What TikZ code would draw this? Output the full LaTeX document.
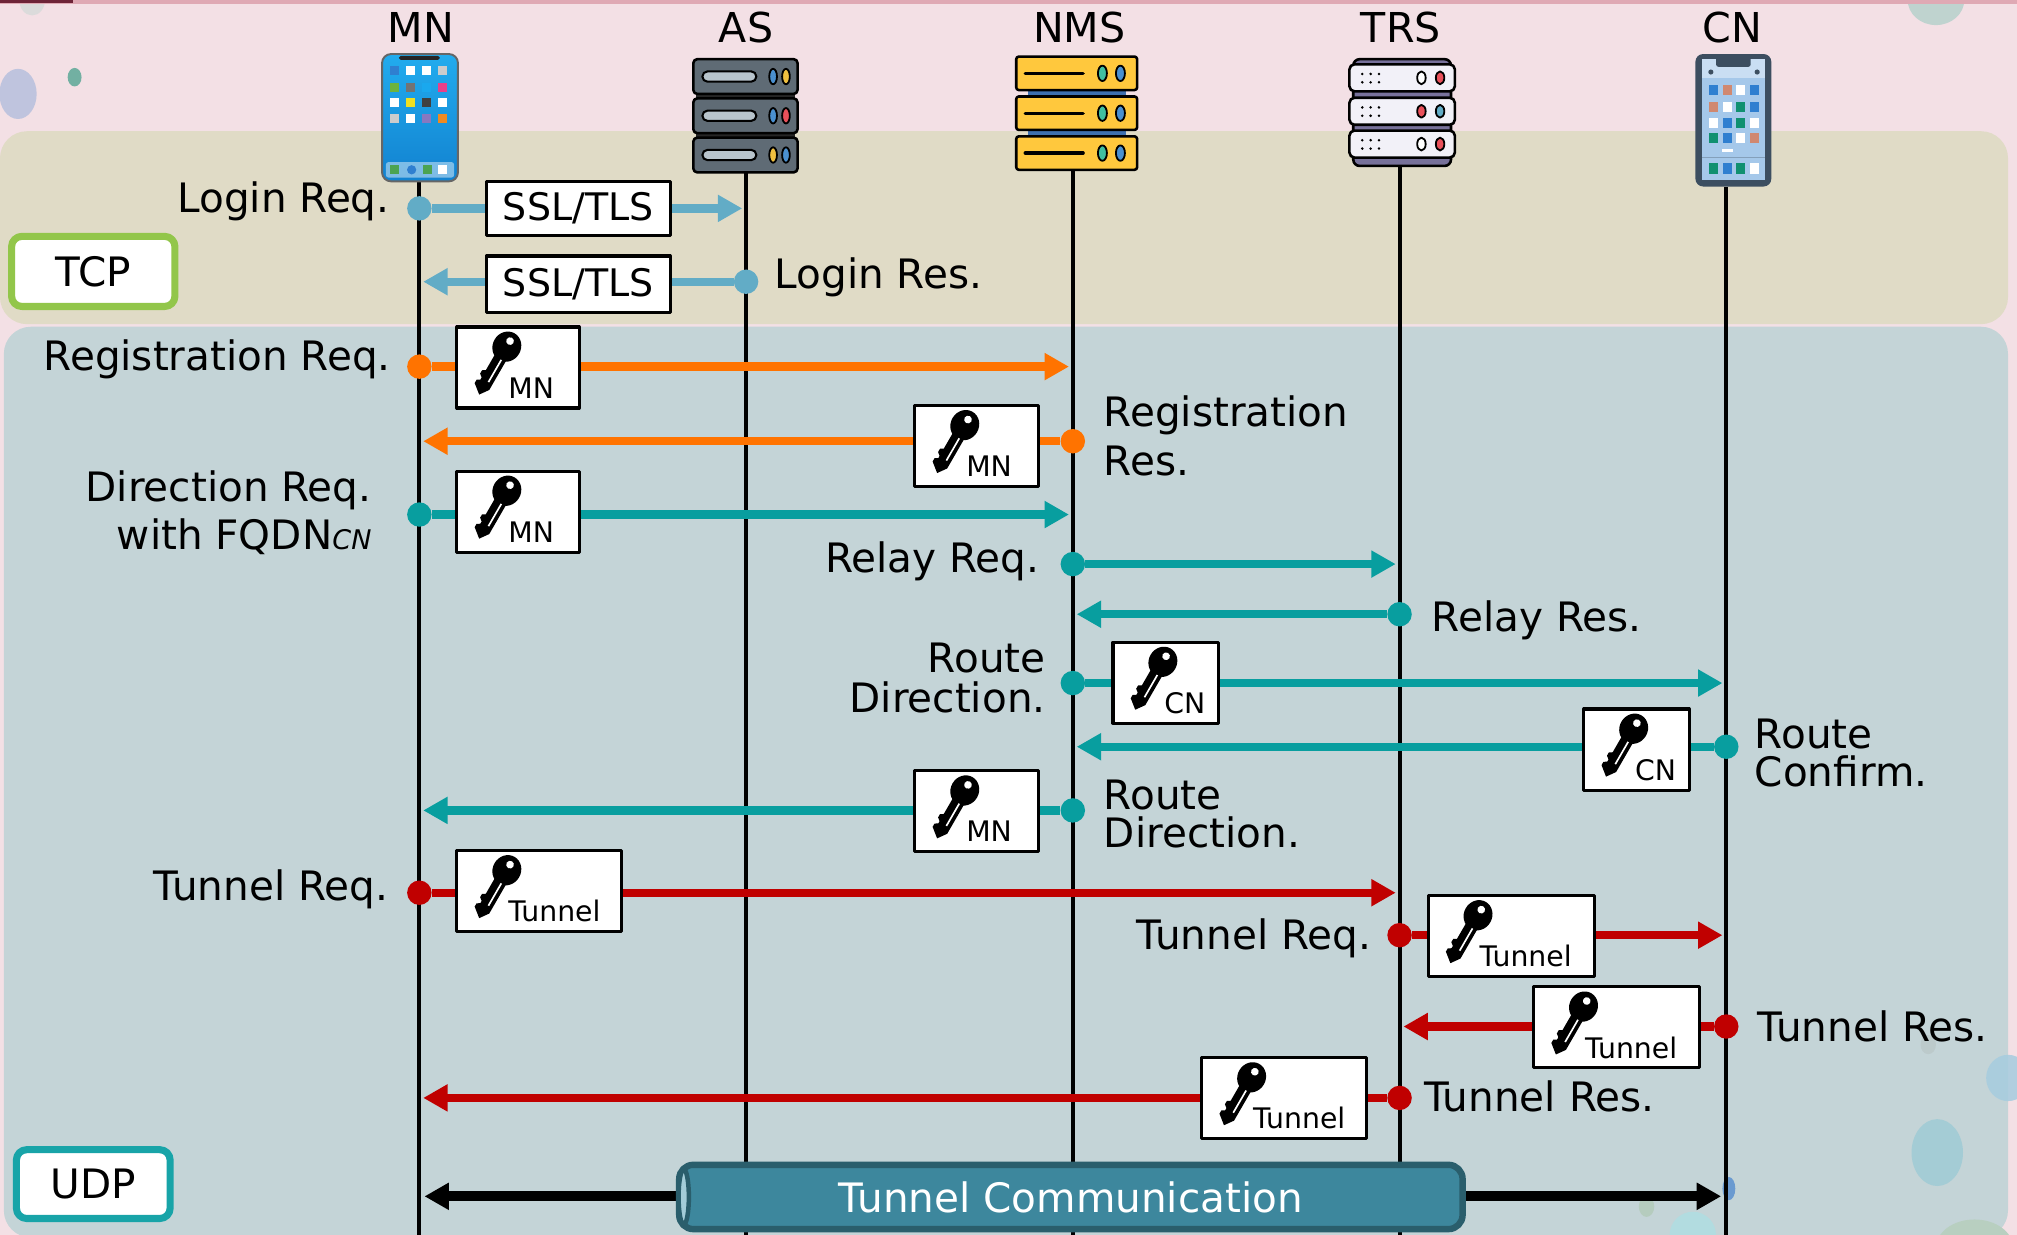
\documentclass[tikz,border=0pt]{standalone}
\usepackage{fontspec}
\setmainfont{DejaVu Sans}
\usetikzlibrary{arrows.meta}

\definecolor{pinkbg}{HTML}{F3E0E5}
\definecolor{topstrip}{HTML}{DFA9B4}
\definecolor{maroonbar}{HTML}{6E2438}
\definecolor{tcpband}{HTML}{E0DBC6}
\definecolor{udpband}{HTML}{C4D4D7}
\definecolor{sslblue}{HTML}{62ACC6}
\definecolor{regorange}{HTML}{FF7300}
\definecolor{dirteal}{HTML}{089E9F}
\definecolor{tunred}{HTML}{C00000}
\definecolor{tcpgreen}{HTML}{92C64A}
\definecolor{udpteal}{HTML}{18A4A8}
\definecolor{pipefill}{HTML}{3D879D}
\definecolor{pipedark}{HTML}{2A5E6C}
\definecolor{pipeface}{HTML}{A3CCD8}
\definecolor{asgray}{HTML}{5F6B75}
\definecolor{asslot}{HTML}{B8C4CC}
\definecolor{ledblue}{HTML}{4A90D0}
\definecolor{ledyellow}{HTML}{F0C040}
\definecolor{ledred}{HTML}{E8505A}
\definecolor{ledteal}{HTML}{40C0A0}
\definecolor{nmsyellow}{HTML}{FFC83D}
\definecolor{nmsblue}{HTML}{3E70B0}
\definecolor{trsback}{HTML}{77719A}
\definecolor{trswhite}{HTML}{F2F1F8}
\definecolor{cnframe}{HTML}{3C4E60}
\definecolor{cnscreen}{HTML}{A5C8EA}
\definecolor{mnscrtop}{HTML}{22ACEE}
\definecolor{mnscrbot}{HTML}{1282D0}
\definecolor{appblue}{HTML}{2F7FD0}
\definecolor{appsky}{HTML}{1AA8EE}
\definecolor{appgreen}{HTML}{6CB33E}
\definecolor{appdeep}{HTML}{109070}
\definecolor{apppink}{HTML}{E8408A}
\definecolor{appyellow}{HTML}{F0E020}
\definecolor{apppurple}{HTML}{8878C0}
\definecolor{apporange}{HTML}{F08A20}
\definecolor{appsalmon}{HTML}{D08870}
\definecolor{bublav}{HTML}{BFC4DE}
\definecolor{bubgreen}{HTML}{72B0A2}
\definecolor{bubsage}{HTML}{BFD3CF}
\definecolor{bubblue}{HTML}{A4CCD5}
\definecolor{bubsky}{HTML}{A6CCDF}
\definecolor{bubgray}{HTML}{BCCACB}
\definecolor{bubmoss}{HTML}{B8CFC0}
\definecolor{bubmint}{HTML}{B5CCBE}
\definecolor{bubcyan}{HTML}{B2DCE0}
\definecolor{bubdeep}{HTML}{6A9AD0}

% key symbol, head at the origin, shaft pointing down-left
\tikzset{
  keyicon/.pic={
    \begin{scope}[rotate=-30]
      \fill (0,0) ellipse (11 and 12);
      \fill[white] (0,-5) circle (3);
      \fill (-5,6) -- (5,6) -- (5,36) -- (0,43) -- (-5,39)
        -- (-7.5,37) -- (-7.5,34) -- (-5,32.5) -- (-5,30.5)
        -- (-7.5,28.5) -- (-7.5,25.5) -- (-5,24) -- cycle;
      \draw[white, line width=1.3] (1.4,11) -- (1.4,31);
    \end{scope}
  }
}

% name, left, top, width, tag
\newcommand{\keybox}[5]{%
  \node[keybox, minimum width=#4] (#1) at (#2,#3) {};
  \pic at ([shift={(40,16.5)}]#1.north west) {keyicon};
  \node[keytag] at ([shift={(41,56.5)}]#1.north west) {#5};
}

\begin{document}
\begin{tikzpicture}[x=1pt, y=-1pt, line join=round,
  >={Triangle[length=19pt,width=20pt]},
  font=\fontsize{31.5}{38}\selectfont,
  lanehead/.style={anchor=base, inner sep=0, font=\fontsize{32}{32}\selectfont},
  lifeline/.style={line width=3},
  msg/.style={line width=6.5, ->, shorten >=3pt},
  msgdot/.style={circle, fill=#1, minimum size=19, inner sep=0},
  lbl/.style={inner sep=0},
  sslbox/.style={draw, fill=white, line width=2.4, minimum width=143, inner sep=0, font=\fontsize{29.5}{29.5}\selectfont},
  keybox/.style={draw, fill=white, line width=2.4, minimum height=63, inner sep=0, anchor=north west},
  keytag/.style={anchor=base west, inner sep=0, font=\fontsize{22}{22}\selectfont},
  protobox/.style={draw=#1, fill=white, line width=5.5, rounded corners=8, inner sep=0},
  tunnelpipe/.style={draw=pipedark, fill=pipefill, line width=5, rounded corners=11,
    minimum width=609, minimum height=50, inner sep=0, text=white}]
\def\xMN{326} \def\xAS{580} \def\xNMS{834} \def\xTRS{1088} \def\xCN{1342}
\useasboundingbox (0,0) rectangle (1568,960);

% background and bands
\fill[pinkbg] (0,0) rectangle (1568,960);
\fill[black!14] (25,0) ellipse (10 and 12);
\fill[bublav] (14,73) ellipse (14.5 and 19.5);
\fill[bubgreen] (58,60) ellipse (5.4 and 7.2);
\fill[bubsage] (1505,0) ellipse (22 and 19.5);
\fill[topstrip] (0,0) rectangle (1568,3);
\fill[maroonbar] (0,0) rectangle (57,2.3);
\fill[tcpband, rounded corners=21] (0,102) rectangle (1561,252);
\fill[udpband, rounded corners=21] (3,254) rectangle (1561,962);
\fill[bubblue] (1506,896) ellipse (20 and 26);
\fill[bubsky, opacity=.85] (1561,838) ellipse (17 and 18);
\fill[bubgray] (1499,812) ellipse (6 and 7.5);
\fill[bubmoss] (1535,970) ellipse (30 and 22);
\fill[bubmint] (1280,938) ellipse (6 and 8);
\fill[bubcyan] (1316,960) circle (18);
\fill[bubdeep] (1344,924) ellipse (5 and 9);

\node[protobox=tcpgreen, minimum width=127, minimum height=54.5] (tcp) at (72.5,211) {TCP};
\node[protobox=udpteal, minimum width=119.5, minimum height=53.5] (udp) at (72.5,920.5) {UDP};

% lane heads
\node[lanehead] (MN) at (327,33) {MN};
\node[lanehead] (AS) at (580,33) {AS};
\node[lanehead] (NMS) at (839,33) {NMS};
\node[lanehead] (TRS) at (1089,33) {TRS};
\node[lanehead] (CN) at (1347,33) {CN};

\draw[lifeline] (\xMN,140) -- (\xMN,962);
\draw[lifeline] (\xAS,132) -- (\xAS,962);
\draw[lifeline] (\xNMS,132) -- (\xNMS,962);
\draw[lifeline] (\xTRS,128) -- (\xTRS,962);
\draw[lifeline] (\xCN,145) -- (\xCN,962);

% MN handset
\draw[top color=mnscrtop, bottom color=mnscrbot, draw=black!60, line width=1.5, rounded corners=7]
  (297,42) rectangle (356,141);
\fill[black!85, rounded corners=1.5] (310,43.5) rectangle (342,46.5);
\foreach \y/\cols in {55/{appblue,white,white,black!20}, 68/{appgreen,black!55,appsky,apppink},
    80/{white,appyellow,black!75,white}, 92.5/{black!20,white,apppurple,apporange}}
  \foreach \c [count=\k from 0] in \cols
    \fill[\c] ({303.5+12.4*\k},\y-3.5) rectangle ++(7,7);
\fill[white, opacity=.45, rounded corners=2] (300,126) rectangle (353,138);
\fill[appgreen!70!teal] (303.5,128.5) rectangle ++(7,7);
\fill[appblue] (320,132) circle (3.6);
\fill[appgreen!70!teal] (328.5,128.5) rectangle ++(7,7);
\fill[white] (340.5,128.5) rectangle ++(7,7);

% AS rack
\fill[black!85] (541,47) rectangle (618,133);
\foreach \y/\la/\lb in {46/ledblue/ledyellow, 76.5/ledblue/ledred, 107/ledyellow/ledblue} {
  \draw[fill=asgray, line width=2, rounded corners=3] (539,\y) rectangle ++(81,27);
  \draw[fill=asslot, line width=1.6, rounded corners=4] (546,\y+9.5) rectangle ++(42,8);
  \draw[fill=\la, line width=1.4] (601,\y+13.5) ellipse (3 and 6);
  \draw[fill=\lb, line width=1.4] (611,\y+13.5) ellipse (3 and 6);
}

% NMS rack
\fill[nmsblue] (799,60) rectangle (875,120);
\foreach \y in {44,75,106} {
  \draw[fill=nmsyellow, line width=2, rounded corners=2] (790,\y) rectangle ++(94,26);
  \draw[line width=2.6, line cap=round] (797,\y+13) -- (842,\y+13);
  \draw[fill=ledteal, line width=1.4] (857,\y+13) ellipse (3.5 and 6);
  \draw[fill=ledblue, line width=1.4] (871,\y+13) ellipse (3.5 and 6);
}

% TRS rack
\draw[fill=trsback, line width=2, rounded corners=5] (1052,46) rectangle (1128,129);
\foreach \y/\la/\lb in {50/white/ledred, 76/ledred/sslblue, 101.5/white/ledred} {
  \draw[fill=trswhite, line width=2, rounded corners=4] (1049,\y) rectangle ++(82,21);
  \foreach \dx in {0,6.5,13} \foreach \dy in {7.5,14} \fill (1059+\dx,\y+\dy) circle (1.1);
  \draw[fill=\la, line width=1.4] (1105,\y+10.5) ellipse (3.3 and 5);
  \draw[fill=\lb, line width=1.4] (1119.5,\y+10.5) ellipse (3.3 and 5);
}

% CN handset
\fill[cnframe, rounded corners=6] (1318,42) rectangle (1377,145);
\fill[cnscreen] (1323,46) rectangle (1372,140);
\fill[cnscreen!60!white] (1323,46) rectangle (1372,61);
\fill[cnframe, rounded corners=2] (1334,42) rectangle (1361,52);
\fill[cnframe] (1330,56) circle (2) (1366,56) circle (2);
\foreach \y/\cols in {70/{appblue,appsalmon,white,appblue}, 83/{appsalmon,white,appdeep,appblue},
    95.5/{white,appblue,appdeep,white}, 107.5/{appdeep,appblue,white,appsalmon}}
  \foreach \c [count=\k from 0] in \cols
    \fill[\c] ({1328.5+10.6*\k},\y-4) rectangle ++(7,8);
\fill[white] (1339,115.5) rectangle ++(8,3);
\fill[cnscreen!80!black] (1323,122) rectangle (1372,123);
\foreach \c [count=\k from 0] in {appdeep,appblue,appdeep,white}
  \fill[\c] ({1328.5+10.6*\k},127) rectangle ++(7,8);

% login over SSL/TLS
\node[msgdot=sslblue] (d1) at (\xMN,162) {};
\coordinate (e1) at (\xAS,162);
\draw[msg, sslblue] (d1) -- (e1);
\node[sslbox, minimum height=42] (ssl1) at (449.5,162) {SSL/TLS};
\node[lbl, anchor=base east] (t1) at (303,165) {Login Req.};

\node[msgdot=sslblue] (d2) at (\xAS,219) {};
\coordinate (e2) at (\xMN,219);
\draw[msg, sslblue] (d2) -- (e2);
\node[sslbox, minimum height=44] (ssl2) at (449.5,221) {SSL/TLS};
\node[lbl, anchor=base west] (t2) at (602,224) {Login Res.};

% registration
\node[msgdot=regorange] (d3) at (\xMN,285) {};
\coordinate (e3) at (\xNMS,285);
\draw[msg, regorange] (d3) -- (e3);
\keybox{k3}{354}{253}{95}{MN}
\node[lbl, anchor=base east] (t3) at (304,288) {Registration Req.};

\node[msgdot=regorange] (d4) at (\xNMS,343) {};
\coordinate (e4) at (\xMN,343);
\draw[msg, regorange] (d4) -- (e4);
\keybox{k4}{710}{314}{96}{MN}
\node[lbl, anchor=base west, align=left] (t4) at (858,369.5) {Registration\\Res.};

% direction and relay
\node[msgdot=dirteal] (d5) at (\xMN,400) {};
\coordinate (e5) at (\xNMS,400);
\draw[msg, dirteal] (d5) -- (e5);
\keybox{k5}{354}{365}{95}{MN}
\node[lbl, anchor=base east, align=right] (t5) at (289,427.5)
  {Direction Req.\\with FQDN{\fontsize{21}{21}\selectfont\itshape CN}};

\node[msgdot=dirteal] (d6) at (\xNMS,438.5) {};
\coordinate (e6) at (\xTRS,438.5);
\draw[msg, dirteal] (d6) -- (e6);
\node[lbl, anchor=base east] (t6) at (808,445) {Relay Req.};

\node[msgdot=dirteal] (d7) at (\xTRS,477.5) {};
\coordinate (e7) at (\xNMS,477.5);
\draw[msg, dirteal] (d7) -- (e7);
\node[lbl, anchor=base west] (t7) at (1113,491) {Relay Res.};

\node[msgdot=dirteal] (d8) at (\xNMS,531) {};
\coordinate (e8) at (\xCN,531);
\draw[msg, dirteal] (d8) -- (e8);
\keybox{k8}{864}{498}{82}{CN}
\node[lbl, anchor=base east, align=right, font=\fontsize{31.5}{31}\selectfont] (t8) at (813,554) {Route\\Direction.};

\node[msgdot=dirteal] (d9) at (\xCN,580.5) {};
\coordinate (e9) at (\xNMS,580.5);
\draw[msg, dirteal] (d9) -- (e9);
\keybox{k9}{1230}{550}{82}{CN}
\node[lbl, anchor=base west, align=left, font=\fontsize{31.5}{30}\selectfont] (t9) at (1364,611.5) {Route\\Confirm.};

\node[msgdot=dirteal] (d10) at (\xNMS,630) {};
\coordinate (e10) at (\xMN,630);
\draw[msg, dirteal] (d10) -- (e10);
\keybox{k10}{710}{598}{96}{MN}
\node[lbl, anchor=base west, align=left, font=\fontsize{31.5}{30}\selectfont] (t10) at (858,659) {Route\\Direction.};

% tunnel set-up
\node[msgdot=tunred] (d11) at (\xMN,694) {};
\coordinate (e11) at (\xTRS,694);
\draw[msg, tunred] (d11) -- (e11);
\keybox{k11}{354}{660}{128}{Tunnel}
\node[lbl, anchor=base east] (t11) at (302,700) {Tunnel Req.};

\node[msgdot=tunred] (d12) at (\xTRS,727) {};
\coordinate (e12) at (\xCN,727);
\draw[msg, tunred] (d12) -- (e12);
\keybox{k12}{1109}{695}{129}{Tunnel}
\node[lbl, anchor=base east] (t12) at (1066,738) {Tunnel Req.};

\node[msgdot=tunred] (d13) at (\xCN,798) {};
\coordinate (e13) at (\xTRS,798);
\draw[msg, tunred] (d13) -- (e13);
\keybox{k13}{1191}{766}{129}{Tunnel}
\node[lbl, anchor=base west] (t13) at (1366,810) {Tunnel Res.};

\node[msgdot=tunred] (d14) at (\xTRS,853.5) {};
\coordinate (e14) at (\xMN,853.5);
\draw[msg, tunred] (d14) -- (e14);
\keybox{k14}{933}{821}{128}{Tunnel}
\node[lbl, anchor=base west] (t14) at (1107,864) {Tunnel Res.};

% data path
\coordinate (c1) at (\xMN,930);
\coordinate (c2) at (\xCN,930);
\draw[line width=8, <->, shorten <=4pt, shorten >=4pt] (c1) -- (c2);
\node[tunnelpipe] (pipe) at (832.5,930.5) {Tunnel Communication};
\draw[pipedark, fill=pipeface, line width=3.5] ([xshift=6pt]pipe.west) ellipse (4 and 21.5);
\end{tikzpicture}
\end{document}
